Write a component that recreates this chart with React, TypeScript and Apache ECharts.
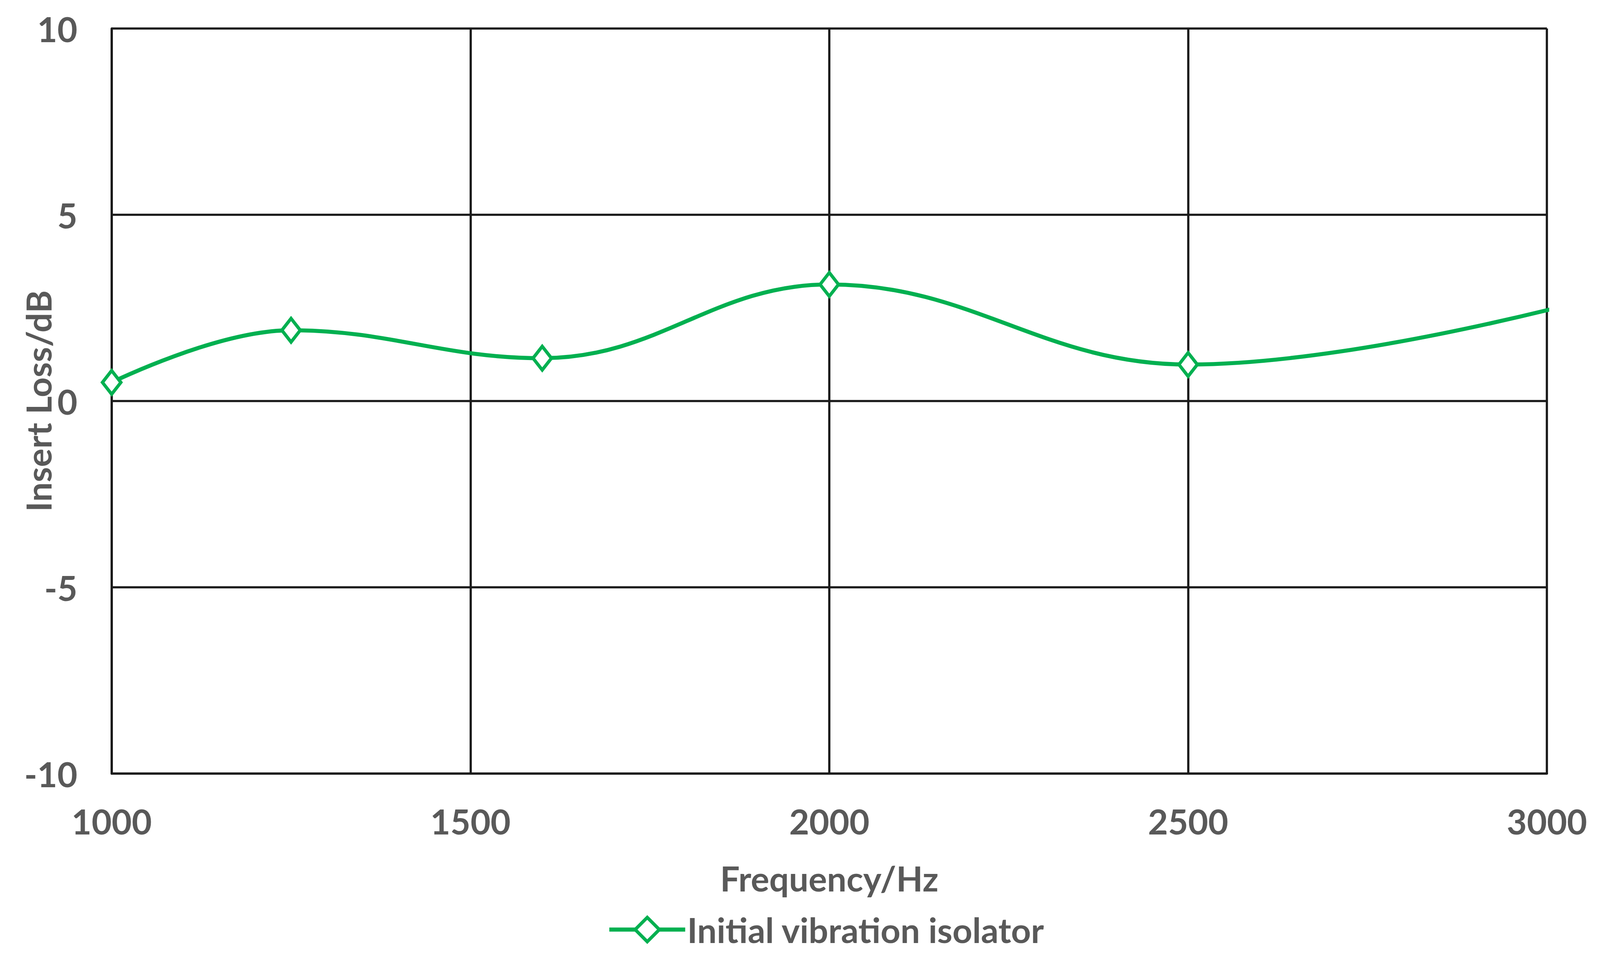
import React, { useEffect, useRef } from "react";
import * as echarts from "echarts";

// Data
const frequencies = [1000, 1250, 1600, 2000, 2500, 3150];
const insertLoss = [0.5, 1.9, 1.15, 3.13, 0.98, 3.2];
const xRange = [1000, 3000];
const xStep = 500;
const yRange = [-10, 10];
const yStep = 5;
const seriesName = "Initial vibration isolator";
const xName = "Frequency/Hz";
const yName = "Insert Loss/dB";

const GREEN = "#00B050";
const TEXT = "#595959";
const GRID = "#1a1a1a";
const FONT = "Lato, 'Open Sans', sans-serif";

export default function App() {
  const ref = useRef<HTMLDivElement>(null);

  useEffect(() => {
    document.body.style.margin = "0";
    document.body.style.overflow = "hidden";
    const el = ref.current!;
    const W = el.clientWidth;
    const H = el.clientHeight;
    const sx = W / 4342;
    const sy = H / 2461;
    const FS = 94 * sx;
    const chart = echarts.init(el, undefined, { renderer: "svg" });
    const textBase = {
      color: TEXT,
      fontFamily: FONT,
      fontWeight: "bold" as const,
      fontSize: FS,
      lineHeight: FS,
    };
    chart.setOption({
      animation: false,
      backgroundColor: "#ffffff",
      grid: {
        left: 303 * sx,
        right: 144 * sx,
        top: 73 * sy,
        bottom: 480 * sy,
        containLabel: false,
        outerBoundsMode: "none",
      },
      legend: {
        show: true,
        left: 1648 * sx,
        top: 2336 * sy,
        padding: 0,
        itemWidth: 206 * sx,
        itemHeight: 82 * sx,
        textStyle: { ...textBase },
        lineStyle: { color: GREEN, width: 11 * sx },
        itemStyle: { color: "#ffffff", borderColor: GREEN, borderWidth: 9 * sx },
        data: [seriesName],
      },
      xAxis: {
        type: "value",
        min: xRange[0],
        max: xRange[1],
        interval: xStep,
        name: xName,
        nameLocation: "middle",
        nameGap: 223 * sy,
        nameMoveOverlap: false,
        nameTextStyle: { ...textBase },
        axisLine: { show: true, onZero: false, lineStyle: { color: GRID, width: 6 * sx } },
        axisTick: { show: false },
        axisLabel: {
          ...textBase,
          margin: 77 * sy,
          showMinLabel: true,
          showMaxLabel: true,
          formatter: (v: number) => String(v),
        },
        splitLine: { show: true, lineStyle: { color: GRID, width: 6 * sx } },
      },
      yAxis: {
        type: "value",
        min: yRange[0],
        max: yRange[1],
        interval: yStep,
        name: yName,
        nameLocation: "middle",
        nameRotate: 90,
        nameGap: 153 * sx,
        nameMoveOverlap: false,
        nameTextStyle: { ...textBase },
        axisLine: { show: true, onZero: false, lineStyle: { color: GRID, width: 6 * sx } },
        axisTick: { show: false },
        axisLabel: { ...textBase, margin: 93 * sx, formatter: (v: number) => String(v) },
        splitLine: { show: true, lineStyle: { color: GRID, width: 6 * sx } },
      },
      series: [
        {
          name: seriesName,
          type: "line",
          data: frequencies.map((f, i) => [f, insertLoss[i]]),
          smooth: 0.4,
          clip: true,
          symbol: "diamond",
          symbolSize: [50 * sx, 64 * sx],
          showSymbol: true,
          itemStyle: { color: "#ffffff", borderColor: GREEN, borderWidth: 9 * sx },
          lineStyle: { color: GREEN, width: 11 * sx },
          emphasis: { disabled: true },
          z: 5,
        },
      ],
    });
    return () => chart.dispose();
  }, []);

  return (
    <div
      ref={ref}
      style={{ position: "fixed", left: 0, top: 0, width: "100vw", height: "100vh" }}
    />
  );
}
